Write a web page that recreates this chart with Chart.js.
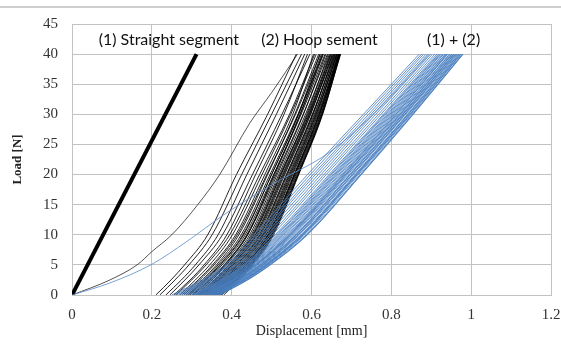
<!DOCTYPE html>
<html><head><meta charset="utf-8">
<script src="https://cdn.jsdelivr.net/npm/chart.js@4.4.0/dist/chart.umd.min.js"></script>
<style>html,body{margin:0;padding:0;background:#fff}</style>
</head><body>
<canvas id="c" width="561" height="345"></canvas>
<script>
// ---- data ----
const loads = [0, 2.5, 5, 10, 20, 30, 40];           // Load [N] levels for the curves below
const xTickLabels = ['0','0.2','0.4','0.6','0.8','1','1.2'];
const yTickLabels = ['0','5','10','15','20','25','30','35','40','45'];

// (1) straight segment
const straightX = [0, 0.312];
const straightLoad = [0, 40];

// (2) hoop segment: displacement [mm] at each load level
const hoopX = [
 [0.210,0.248,0.282,0.340,0.412,0.490,0.562],
 [0.220,0.258,0.293,0.351,0.425,0.500,0.575],
 [0.235,0.274,0.309,0.366,0.438,0.512,0.583],
 [0.245,0.283,0.318,0.377,0.452,0.526,0.596],
 [0.255,0.296,0.331,0.388,0.460,0.531,0.590],
 [0.260,0.300,0.336,0.395,0.470,0.545,0.608],
 [0.270,0.309,0.345,0.402,0.476,0.548,0.612],
 [0.275,0.316,0.352,0.410,0.483,0.553,0.605],
 [0.280,0.320,0.356,0.414,0.488,0.560,0.622],
 [0.285,0.326,0.362,0.418,0.490,0.558,0.618],
 [0.290,0.330,0.366,0.424,0.496,0.566,0.628],
 [0.295,0.336,0.372,0.430,0.500,0.568,0.625],
 [0.300,0.340,0.376,0.434,0.505,0.574,0.634],
 [0.302,0.344,0.381,0.438,0.508,0.572,0.630],
 [0.305,0.346,0.383,0.440,0.511,0.579,0.640],
 [0.310,0.351,0.387,0.445,0.514,0.580,0.636],
 [0.315,0.356,0.392,0.449,0.518,0.585,0.645],
 [0.320,0.361,0.397,0.454,0.523,0.588,0.642],
 [0.322,0.364,0.400,0.456,0.524,0.592,0.650],
 [0.325,0.366,0.402,0.459,0.527,0.594,0.648],
 [0.330,0.371,0.407,0.463,0.531,0.597,0.655],
 [0.332,0.374,0.410,0.466,0.533,0.598,0.652],
 [0.335,0.377,0.413,0.469,0.537,0.602,0.658],
 [0.340,0.381,0.417,0.473,0.540,0.604,0.656],
 [0.342,0.384,0.420,0.476,0.543,0.607,0.662],
 [0.345,0.386,0.422,0.478,0.545,0.609,0.660],
 [0.350,0.391,0.427,0.482,0.549,0.612,0.665],
 [0.352,0.394,0.430,0.485,0.551,0.614,0.663],
 [0.355,0.396,0.432,0.487,0.553,0.616,0.668],
 [0.357,0.399,0.435,0.490,0.556,0.618,0.666],
 [0.360,0.401,0.437,0.492,0.558,0.620,0.670],
 [0.362,0.404,0.440,0.494,0.559,0.621,0.668],
 [0.365,0.406,0.442,0.496,0.561,0.623,0.671],
 [0.367,0.409,0.444,0.498,0.563,0.624,0.669],
 [0.370,0.411,0.446,0.500,0.565,0.626,0.672],
 [0.372,0.413,0.448,0.501,0.566,0.626,0.670],
 [0.375,0.415,0.450,0.503,0.567,0.627,0.673],
 [0.380,0.419,0.453,0.505,0.568,0.628,0.672],
 [0.312,0.350,0.384,0.440,0.506,0.571,0.628],
 [0.292,0.333,0.370,0.428,0.500,0.567,0.621],
 [0.318,0.358,0.394,0.452,0.521,0.590,0.647],
 [0.338,0.379,0.415,0.471,0.538,0.603,0.659],
 [0.348,0.389,0.425,0.480,0.547,0.611,0.664],
 [0.327,0.368,0.404,0.461,0.529,0.595,0.653],
 [0.358,0.400,0.436,0.491,0.557,0.619,0.669]
];
const hoopOutlierX    = [0, 0.095, 0.165, 0.200, 0.250, 0.315, 0.370, 0.445, 0.500, 0.540, 0.565];
const hoopOutlierLoad = [0, 2.5,   5.1,   7.2,   10,    15,    20,    28.5,  33.6,  37.5,  40];

// (1) + (2): displacement [mm] at each load level
const comboX = [
 [0.250,0.325,0.383,0.455,0.590,0.730,0.870],
 [0.256,0.331,0.389,0.462,0.597,0.736,0.876],
 [0.262,0.337,0.394,0.469,0.604,0.743,0.881],
 [0.268,0.342,0.400,0.475,0.610,0.749,0.887],
 [0.274,0.348,0.406,0.482,0.617,0.755,0.892],
 [0.280,0.354,0.412,0.489,0.624,0.761,0.898],
 [0.286,0.360,0.417,0.496,0.631,0.768,0.903],
 [0.292,0.365,0.423,0.502,0.637,0.774,0.909],
 [0.298,0.371,0.429,0.509,0.644,0.780,0.914],
 [0.304,0.377,0.434,0.516,0.651,0.786,0.920],
 [0.310,0.383,0.440,0.523,0.658,0.793,0.925],
 [0.316,0.388,0.446,0.529,0.664,0.799,0.931],
 [0.322,0.394,0.451,0.536,0.671,0.805,0.936],
 [0.328,0.400,0.457,0.543,0.678,0.811,0.942],
 [0.334,0.406,0.463,0.550,0.685,0.818,0.947],
 [0.340,0.411,0.469,0.556,0.691,0.824,0.953],
 [0.346,0.417,0.474,0.563,0.698,0.830,0.958],
 [0.352,0.423,0.480,0.570,0.705,0.836,0.964],
 [0.358,0.429,0.486,0.577,0.712,0.843,0.969],
 [0.364,0.434,0.491,0.583,0.718,0.849,0.975],
 [0.370,0.440,0.497,0.590,0.725,0.855,0.980],
 [0.301,0.374,0.432,0.513,0.648,0.783,0.918],
 [0.313,0.386,0.443,0.526,0.661,0.796,0.929],
 [0.319,0.391,0.449,0.533,0.668,0.802,0.935],
 [0.326,0.397,0.454,0.540,0.675,0.808,0.939],
 [0.331,0.403,0.460,0.546,0.682,0.815,0.946],
 [0.337,0.408,0.466,0.553,0.688,0.821,0.950],
 [0.343,0.414,0.472,0.560,0.695,0.827,0.956],
 [0.349,0.420,0.477,0.567,0.702,0.833,0.961],
 [0.355,0.426,0.483,0.574,0.709,0.840,0.966],
 [0.361,0.432,0.489,0.580,0.715,0.846,0.972],
 [0.367,0.437,0.494,0.587,0.722,0.852,0.978],
 [0.368,0.439,0.496,0.589,0.724,0.854,0.979],
 [0.340,0.405,0.462,0.548,0.686,0.822,0.952],
 [0.325,0.402,0.459,0.545,0.680,0.812,0.940],
 [0.356,0.428,0.485,0.576,0.711,0.842,0.970],
 [0.362,0.431,0.488,0.579,0.714,0.847,0.974],
 [0.307,0.380,0.437,0.520,0.655,0.790,0.923],
 [0.345,0.416,0.473,0.562,0.697,0.829,0.957],
 [0.352,0.421,0.478,0.566,0.702,0.834,0.962]
];
const comboOutlierX    = [0, 0.095, 0.200, 0.290, 0.380, 0.500, 0.645, 0.770, 0.895];
const comboOutlierLoad = [0, 2.0,   5.1,   9.0,   13.3,  18.3,  23.7,  31.0,  40];

const noteTexts = ['(1) Straight segment', '(2) Hoop sement', '(1) + (2)'];

// ---- styling / layout ----
const BLUE = 'rgba(72,126,192,0.85)';
const BLACK = 'rgba(0,0,0,0.85)';
const notePos = [{x:0.2425,y:42.4},{x:0.62,y:42.4},{x:0.956,y:42.4}];

function pts(xs, ys){ return xs.map((x,i)=>({x:x, y:ys[i]})); }
const lineBase = {showLine:true, pointRadius:0, pointHoverRadius:0, fill:false, cubicInterpolationMode:'monotone'};

const datasets = [];
comboX.forEach(r => datasets.push(Object.assign({}, lineBase, {data:pts(r, loads), borderColor:BLUE, borderWidth:1.0})));
datasets.push(Object.assign({}, lineBase, {data:pts(comboOutlierX, comboOutlierLoad), borderColor:'rgba(90,140,200,0.9)', borderWidth:0.9}));
hoopX.forEach(r => datasets.push(Object.assign({}, lineBase, {data:pts(r, loads), borderColor:BLACK, borderWidth:1.0})));
datasets.push(Object.assign({}, lineBase, {data:pts(hoopOutlierX, hoopOutlierLoad), borderColor:'rgba(0,0,0,0.75)', borderWidth:0.9}));
datasets.push(Object.assign({}, lineBase, {data:pts(straightX, straightLoad), borderColor:'#000', borderWidth:4, cubicInterpolationMode:'default'}));

const decor = {
  id:'decor',
  beforeDraw(chart){
    const c = chart.ctx;
    c.save();
    c.fillStyle = '#fff'; c.fillRect(0,0,chart.width,chart.height);
    c.strokeStyle = '#cfcfcf'; c.lineWidth = 2;
    c.beginPath(); c.moveTo(0,7); c.lineTo(chart.width,7); c.stroke();
    c.restore();
  },
  afterDatasetsDraw(chart){
    const c = chart.ctx, xs = chart.scales.x, ys = chart.scales.y;
    c.save();
    c.fillStyle = '#111';
    c.font = '16px Lato, "Open Sans", sans-serif';
    c.textAlign = 'center'; c.textBaseline = 'middle';
    noteTexts.forEach((t,i)=>{
      c.fillText(t, xs.getPixelForValue(notePos[i].x), ys.getPixelForValue(notePos[i].y));
    });
    c.restore();
  }
};

new Chart(document.getElementById('c'), {
  type:'scatter',
  data:{datasets},
  plugins:[decor],
  options:{
    responsive:false, animation:false, events:[],
    layout:{padding:{top:24, right:10, left:0, bottom:0}},
    plugins:{legend:{display:false}, tooltip:{enabled:false}},
    scales:{
      x:{
        type:'linear', min:0, max:1.2,
        afterFit(s){ s.height = 50; s.paddingRight = 0; s.paddingLeft = 0; },
        afterBuildTicks(s){ s.ticks = xTickLabels.map(v=>({value:parseFloat(v)})); },
        ticks:{callback:(v,i)=>xTickLabels[i], color:'#333', padding:11, maxRotation:0,
               font:{family:'"Liberation Serif", serif', size:15}},
        grid:{color:'#c2c2c2', lineWidth:1, drawTicks:false},
        border:{color:'#c2c2c2'},
        title:{display:true, text:'Displacement [mm]', color:'#222',
               font:{family:'"Liberation Serif", serif', size:14}, padding:{top:0,bottom:5}}
      },
      y:{
        type:'linear', min:0, max:45,
        afterFit(s){ s.width = 72; s.paddingTop = 0; s.paddingBottom = 0; },
        afterBuildTicks(s){ s.ticks = yTickLabels.map(v=>({value:parseFloat(v)})); },
        ticks:{callback:(v,i)=>yTickLabels[i], color:'#333', padding:14,
               font:{family:'"Liberation Serif", serif', size:15}},
        grid:{color:'#c2c2c2', lineWidth:1, drawTicks:false},
        border:{color:'#c2c2c2'},
        title:{display:true, text:'Load [N]', color:'#222',
               font:{family:'"Liberation Serif", serif', size:13, weight:'bold'}, padding:{top:10,bottom:0}}
      }
    }
  }
});
</script>
</body></html>
